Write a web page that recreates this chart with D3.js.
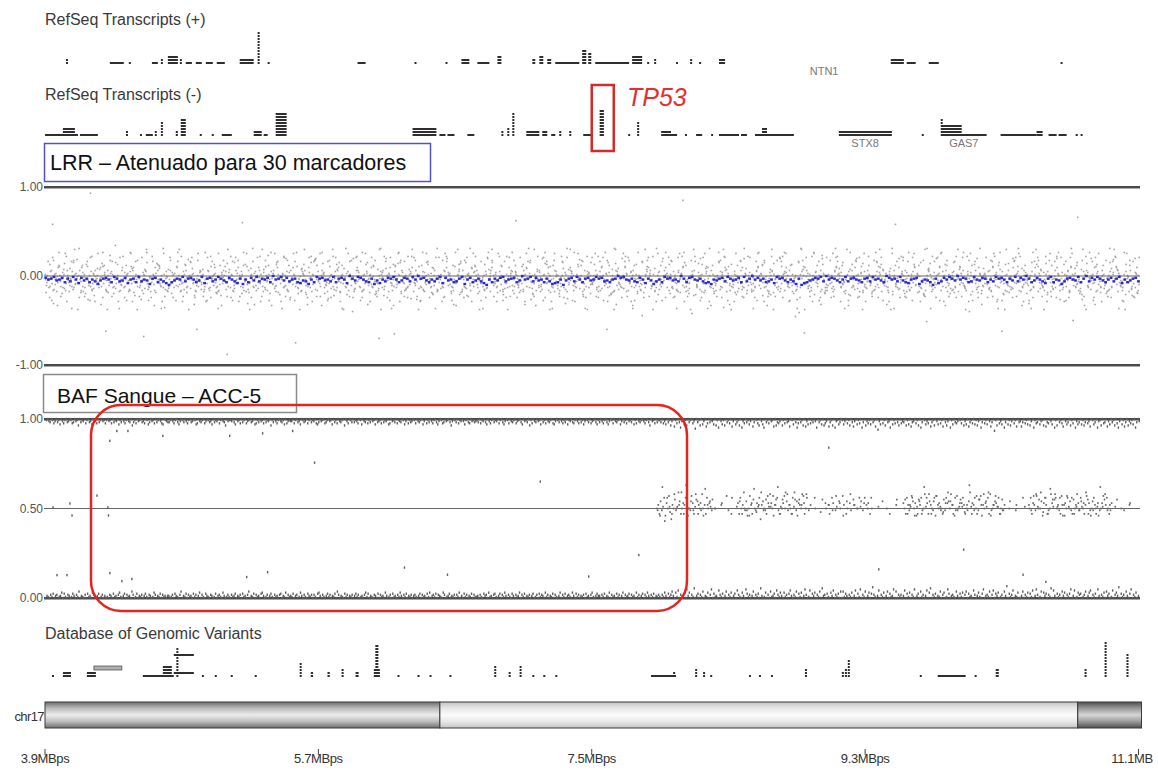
<!DOCTYPE html>
<html>
<head>
<meta charset="utf-8">
<script src="https://cdn.jsdelivr.net/npm/d3@7"></script>
<style>
  html, body { margin: 0; padding: 0; background: #fff; }
  svg { display: block; }
  text { font-family: "Liberation Sans", Arial, sans-serif; }
</style>
</head>
<body>
<svg id="chart" width="1158" height="773"></svg>
<script>
// ---- genomic window (chr17, Mb) ----
const regionStart = 3.9, regionEnd = 11.11;
const axisTicks = [3.9, 5.7, 7.5, 9.3, 11.1];
const axisTickLabels = ["3.9MBps", "5.7MBps", "7.5MBps", "9.3MBps", "11.1MBps"];
const lrrTicks = [1, 0, -1];
const lrrTickLabels = ["1.00", "0.00", "-1.00"];
const bafTicks = [1, 0.5, 0];
const bafTickLabels = ["1.00", "0.50", "0.00"];

// cytobands shown in the ideogram: [name, start, end, stain]
const bands = [["p13.2", 3.9, 6.5, "gpos50"], ["p13.1", 6.5, 10.7, "gneg"], ["p12", 10.7, 11.12, "gpos75"]];

// RefSeq transcripts: [start, end, stacked isoforms]
const plusGenes = [
  [4.038,4.051,2],[4.327,4.419,1],[4.452,4.465,1],[4.604,4.643,1],[4.663,4.676,2],
  [4.709,4.775,3],[4.788,4.801,2],[4.827,4.867,1],[4.893,4.932,1],[4.959,5.005,1],
  [5.031,5.084,1],[5.182,5.274,2],[5.300,5.313,11],[5.366,5.379,1],[5.958,6.011,1],
  [6.333,6.346,1],[6.537,6.550,1],[6.642,6.694,2],[6.747,6.826,1],[6.879,6.905,3],
  [7.109,7.128,2],[7.155,7.181,3],[7.207,7.233,2],[7.260,7.418,1],[7.437,7.464,5],
  [7.477,7.497,4],[7.523,7.746,1],[7.766,7.832,3],[7.865,7.878,1],[7.911,7.924,2],
  [8.055,8.068,1],[8.148,8.161,2],[8.207,8.220,1],[8.338,8.378,2],[9.469,9.555,2],
  [9.574,9.633,1],[9.719,9.785,1],[10.587,10.600,1]
];
const minusGenes = [
  [3.900,4.117,1],[4.018,4.097,3],[4.130,4.248,1],[4.433,4.446,2],[4.525,4.538,1],
  [4.564,4.610,1],[4.623,4.636,2],[4.663,4.669,5],[4.761,4.775,2],[4.794,4.827,6],
  [4.919,4.932,1],[4.998,5.011,1],[5.064,5.130,1],[5.274,5.327,2],[5.340,5.366,1],
  [5.419,5.491,8],[6.320,6.477,3],[6.497,6.537,1],[6.550,6.596,1],[6.681,6.727,1],
  [6.905,6.918,2],[6.944,6.957,3],[6.977,6.990,8],[7.069,7.155,2],[7.174,7.207,2],
  [7.233,7.260,1],[7.286,7.299,2],[7.352,7.365,2],[7.444,7.497,1],[7.552,7.580,9],
  [7.740,7.753,1],[7.799,7.812,5],[7.957,8.022,2],[8.022,8.062,1],[8.114,8.127,1],
  [8.187,8.227,1],[8.286,8.299,1],[8.338,8.470,1],[8.483,8.522,1],[8.575,8.667,1],
  [8.621,8.654,3],[8.654,8.831,1],[9.127,9.476,2],[9.673,9.686,1],[9.798,9.806,6],
  [9.806,9.936,4],[9.806,10.100,1],[10.192,10.429,1],[10.429,10.469,2],[10.508,10.561,1],
  [10.574,10.627,1],[10.686,10.700,1],[10.719,10.732,1]
];
// gene names printed in the tracks: [name, position, strand]
const geneLabels = [["NTN1", 9.03, "+"], ["STX8", 9.30, "-"], ["GAS7", 9.95, "-"]];
const highlightGene = { name: "TP53", start: 7.50, end: 7.645 };

// Database of Genomic Variants: [start, end, level, stacked entries]
const dgvVariants = [
  [3.946,3.959,0,1],[4.018,4.071,0,2],[4.176,4.235,0,2],[4.544,4.748,0,1],[4.676,4.735,0,4],
  [4.765,4.778,0,10],[4.748,4.880,7,1],[4.748,4.880,1,1],[4.933,4.940,0,1],[5.018,5.025,0,1],
  [5.123,5.130,0,1],[5.281,5.288,0,1],[5.577,5.585,0,5],[5.650,5.665,0,2],[5.760,5.775,0,2],
  [5.853,5.860,0,3],[5.945,5.965,0,2],[6.065,6.105,0,3],[6.075,6.095,0,11],[6.221,6.228,0,1],
  [6.353,6.360,0,1],[6.432,6.439,0,1],[6.563,6.570,0,1],[6.858,6.866,0,4],[6.953,6.960,0,2],
  [7.025,7.032,0,4],[7.109,7.116,0,1],[7.181,7.188,0,1],[7.260,7.267,0,1],[7.890,8.055,0,1],
  [8.036,8.042,0,2],[8.181,8.194,0,3],[8.233,8.246,0,2],[8.280,8.286,0,1],[8.535,8.542,0,1],
  [8.601,8.608,0,1],[8.680,8.687,0,1],[8.904,8.911,0,3],[9.147,9.160,0,2],[9.167,9.180,0,3],
  [9.186,9.193,0,6],[9.660,9.667,0,1],[9.778,9.962,0,1],[10.021,10.028,0,1],[10.160,10.180,0,3],
  [10.745,10.752,0,3],[10.877,10.884,0,12],[11.021,11.028,0,8]
];
const dgvGains = [[4.222, 4.406, 2]];

// ---- marker data, one character per marker in genomic order ----
// LRR raw probes: a..z -> -0.56 .. +0.56 (each probe batch has its own calibration offset)
const lrrMarkersA = [
  "mnkolgmjpnmkqlnjmoklrnmpjkmhnolimnkpqlmjnsokmlnjmp",
  "kmnjolpimnkhmnolkjmnpqmlnkfojmlnkmpnjlomkrnmlijnmo",
  "njmlokmnpkjmilnoqmknjlmpnokmjglnmkonplmjknsmolnjpm",
  "lmknojhmpnlkmjonmlpkjnrmolnqkmjlnmiokpjnlmkonmejlp",
  "mkjnlomnpkmjlnokimnjplmokqnjmlnkmopjlhnmkojnmlkpnm",
  "jnmlkopmnjkmlnoqjmkinlpmonkjlmnokmjpnlkmonjmlkpnom",
  "onkmljnpmkhnlmokjmnqlpnmkjonmlnkgjmponlkmrnjlmokn",
  "lnmkjopnmlkimnjqolmknpjmlonkmjnldmkopnmljknomlnpkm",
  "mkonljmnpkjmlnoimkqnjlmopnkmjlnmokfpjnlmkonjmlpknm",
  "nmjlkopnmikmljnoqmknjlmopnkmjlnhmkonplmjknmolnjsmk",
  "kmlnjopmnkljmnoikmpnljmqokmnljmnokpjlmnkomjnlkpmon",
  "mjnlkopmnjkmilnoqjmknlpmonkjlmnokmjpnlkmoenjmlkpnm",
  "nlmokjpnmhkmolnjqmkpnlomjknmlgnokpmjnlkmqonjmlkpnh",
  "lkmnojpmnklmjhonqkmnlpjomknmljnokrmpjnlkmonjmilkpn"
].join("");
const lrrMarkersB = [
  "kqhmrjnfpliosgmkqjtnehlpmiqkrjnglsomhpjeknqiumgrkl",
  "hpnjsglqemkriotjmhqfnlpkgsjmorihnkqtlgjpmeqrnhkslj",
  "ojgrmhqknispfmljtohqkrngmiplsjehqnkrmgtojlpifnskqm",
  "gnrkjphmsqlieontkhrmgqjplsfnikqmhtjrolgpemnsqkhjrl",
  "mqhjsnkgrpliotemjqhnrkfplsgimqjhontrklegpjmsqhnikr",
  "jrmghsqkniplftoqjhmrnkgsplieqmjhrontklgsmpjqhernki",
  "phkrmjgsqnlitfokmjrhqnegpslkimqhjrotnkglsmpqjhenir",
  "lsjhqmrkngpioetkjmhsqnrlgfpkimjqhtornkelgsjpqmhnri",
  "qhmjrsnkgpliedtqkmjhrsnlgfpikmqjhtronkelgspmqjhnik",
  "rjmhqsknpglfiotekmjrqhnslgpkimjqhtoernklgsmpqhjnir",
  "kmhsjrqngplitfomkjqhrnesglpkimjqhtroknlgesmpqjhnri",
  "hqjmrsknpglitbokmjqhrnslgfpkimjqhtonrkelgspmqjhnik",
  "nrhjmqskgpolietkmjhqrnslfgpikmjhqtrnokelgmspjqhnkr",
  "jgqmhrsknpliotfekmjqhrnslgpkimjhqtronklgesmpjqhnir"
].join("");
const lrrMarkersC = [
  "nlmkojnmlpkmnjolmkqnmlojknmplkjnomlmkpnjolmnkqmljo",
  "mknljpomnkmljnoqkmlnjmopklnmjkolnmpkmjlnokmqnljmko",
  "lnkmojpmnlkjmnoplkmnjqolmknjmpolnkmjlonkmpjnlmokqn",
  "imnkrjlomnkpmljnoikmqnlrjmkonmlhpnkmjoqlnmkijnmrlo",
  "okmjnlqmnkpiljmnokrmnljkpmnqoljmknhmlonpkmjlqnmkio",
  "mjlnkomrnmkjplnimokqnmjlkponmlkjnrmoqlnkmjpilnmkoj",
  "knmljponkmqlinjmokrnmljpkmonljkqmnhlomjknpmlioknmq",
  "lmonkjpmlnqkimjonlkrmpnjlkomnmkjqlnpmoknjlimkronmj",
  "nkmljomnpqkjlmnoikmrnljpmkonljmqknmolpjkmnilmokrnj",
  "mlnjkopmnlqkjmionmlkrpnjmkolnmjkqnmploknjmilkmornj",
  "jnmlkopnmkqljnimokmrnlpjkmonlmjkqpnmolkjnmiokmrlnj",
  "omkjnlpmnkqlijmonkmlrnpjkmolnmjqknmplokjnmilmorknj",
  "knmlojpmnkqlmijnokmrlnpjmkolnmjqknmplokjnimlkmornj",
  "mlnkojpnmkqjlimnokmrnlpjmkonlmjqknmpolkjnimlokmrnj"
].join("");
const lrrMarkersD = [
  "ilpgqkmshnjrloeqkmtinhplgrjmokfsnliqhmjpekrnglsoim",
  "qhlnjsgmrkipoethmjqnlgskrhpimjoflqnkhsgjrmpieknqlh",
  "nrgjlqhmspkiotfmjrhnqlgskjpimerhqnlkgsjmopifnrkqhl",
  "hsnkgqjrmplieotkhqmjrngslpfikmqhjtnrolgepmksqnhjrk",
  "rmqhjgsnkplioetmjqhrnkgfslpimqjhtonrklgepjsmqhnirk",
  "gjrmhsqnkilpfotqjhmrnkgsplieqmjhrontklgsmpjqhernk",
  "kphrmjgsqnlitfokmjrhqnegpslkimqhjrotnkglsmpqjhenir",
  "slhjqmrkngpioetkjmhsqnrlgfpkimjqhtornkelgsjpqmhnri",
  "hqmjrsnkgplcedtqkmjhrsnlgfpikmqjhtronkelgspmqjhnik",
  "jrmhqsknpglfiotekmjrqhnslgpkimjqhtoernklgsmpqhjnir",
  "mkhsjrqngplitfomkjqhrnesglpkimjqhtroknlgesmpqjhnri",
  "qhjmrsknpglitbokmjqhrnslgfpkimjqhtonrkelgspmqjhnik"
].join("");
const lrrBatchOffsets = [-0.017, 0.006, -0.006, 0.017];
// LRR averaged over 30 markers: a -> +0.03, each letter 0.01 lower
const lrrSmoothed = [
  "fhgeihfkgjehlfigkhjmigfhkegjiflhgkejhimgfkhjlnkigh",
  "ejgfhkielgfjhegikfhjlgmhkfiejghfkdhgeifjhgklijmhke",
  "gfihjekgfhldgiefhjkgmilhjfgehkifgjehdgfikhjgelfihk",
  "jgemhfkigjlnhkgifejhgfkidhgejfihkgjmlkhnigfjehkgfi",
  "hegfjikhgdfehigjkfhlgimjhkegfihjdgkfehigjlkmhigfje",
  "gihfkejgdhfigkjhlegfikhjmgnlkihfgejdhfgikhejgfhikg",
  "fjehgikdfhgjeiklhgfmjhikngljfhegidhfgkjehifgkhjegf",
  "hkgiejfhdgkifhjlgekhimjgfhiekgdjfhegikhfjgelhkigfj"
].join("");
// isolated LRR probes far from the baseline: [position, LRR]
const lrrOutliers = [
  [3.95,0.58],[4.2,0.93],[4.3,-0.62],[4.55,-0.68],[4.9,-0.6],[5.1,-0.88],[5.2,0.6],[5.55,-0.75],
  [6.1,-0.7],[6.2,-0.65],[7.0,0.62],[7.6,-0.6],[8.1,0.85],[8.9,-0.64],[9.5,0.58],[10.2,-0.62],[10.7,0.66]
];

// BAF homozygous calls: 0..9,a..z -> distance 0 .. 0.21 from the 0 / 1 line
const bafAA = [
  "02103140230125041032014203160210304120531024013020",
  "10320412035102403120630140213024103201530214031202",
  "20130421036021403120413025031042103201402310520131",
  "03124021304120360214031204520130241031203402150312",
  "14023015203104213031045203102413021406302104130213",
  "02413012035140210320403120520130412031520314021302",
  "31024031204150231403210530124021303150204130214031",
  "12031042305120341024031520310420312503140213024013",
  "04132051302140310250314023105204130213041203510242",
  "20314021503120413025031240312051302403152031402131",
  "0315204136205170312408250319024031602150380412073",
  "1402603150240731052084130260314092015030612407315",
  "2051304720316041502830170425031609230410527031406",
  "0614203150270418031602504a3102703150260412806031",
  "3027041503180240613027059031402160350184023106204",
  "1503604120730251048023160370425013062b0413702150",
  "0260315041702830160524031907204130625031480270153",
  "4013602570314082031506240170352a0413062048031502"
].join("");
const bafBB = [
  "10230142031502410320143021603120410325012403102141",
  "02140312051302410230631402103240153021403102450123",
  "31024103520130241032015402310420132503120410236021",
  "12035021403104210320541302140312061302410231504212",
  "20410325013204103120453021043102150314023106024013",
  "03124015023041302150321403120540213041230152041320",
  "14023105204130241035201430210362013041202510340213",
  "21304120350241031204103520140231042103502130614023",
  "02150314023104520130241305120341024031520130421035",
  "13024103520140231052031402130514023102410360214031",
  "1304250316207140382051603104290316052074031250618",
  "0251603140720531608240315207301460258031402170634",
  "2061403270150384031607250413028031506420731608215",
  "3015204160372051408306241503170a25041603280514036",
  "0423061507320416083015240731602504170362081503420",
  "1406250731405162083041502730b16042508305162041703",
  "2730415062081430521607340250816031470253061408253",
  "0516304270153082160430725031604820517306241508302"
].join("");
// BAF heterozygous calls (a..z -> 0.40 .. 0.65, '.' = no call)
const bafHetStart = 7.93, bafHetEnd = 11.08;
const bafHetA = [
  "kmhojlqgnkriemkpjltohknmqigkjrnhlpomkjsgmhqknlj",
  "..k....m.....j..q...",
  "lnhqkmtjogkrmhpkjnlqemokjhrlsnkgmpqjhlknrtojmkhqlpjgnmksrhkq",
  "..m...k.....p..",
  "k.mh.qn.jl.ok.rm.hk.nj.pm.k.ql.jn.mk.hq.",
  "....l......k.......m.....",
  "nkhqmjlroknghpmqjkslnhomkjqgrmnlkhpjqnoksmhgjrklpnqmhkjotlnmqkhjprgmknlqhsjkmonlqhkpjm",
  "...k.....m......l...",
  "kqhnmjrlpkognqmhjksnlpqkmjhrgmnkqlojhpkmsnjqlkhmrpnjkoqmhlgjknrpmqkhjn",
  "..l....k......m....."
].join("");
const bafHetB = [
  "j.g.w.d.q.l.h.s.k.m.t.h.x.k.o.j.s.h.n.k.v.m.o.p.k",
  ".....n...r...h......",
  "o.h.k.j.g.n.v.i.m.t.j.p.n.l.r.m.w.h.p.k.s.m.h.t.o.p.m.n.s.j.",
  "...q....i...n..",
  "m..j..r..n..g..o..s..m..k..o..q..n..k..",
  "......o.....h.....p......",
  "p.h.m.q.g.l.o.h.w.q.s.h.o.r.k.j.i.n.t.o.m.q.j.n.l.i.m.x.h.j.r.p.m.s.o.t.g.m.r.l.h.j.",
  "....o....j.....q....",
  "m.j.r.s.k.t.i.q.h.v.p.s.l.q.m.g.r.k.q.h.l.j.o.n.t.h.g.j.k.n.w.l.s.j.m.",
  "....p.....j....n...."
].join("");
// isolated BAF calls: [position, BAF]
const bafScatter = [
  [3.953,0.506],[4.064,0.528],[4.078,0.461],[4.242,0.572],[4.314,0.506],[4.318,0.461],
  [4.327,0.878],[4.373,0.933],[4.446,0.933],[4.676,0.906],[5.116,0.906],[5.333,0.92],[5.531,0.933],
  [3.979,0.128],[4.045,0.128],[4.327,0.139],[4.406,0.094],[4.472,0.106],[5.228,0.117],[5.366,0.144],
  [5.675,0.756],[7.161,0.65],[6.267,0.17],[6.55,0.13],[7.81,0.24],[7.48,0.12],
  [9.061,0.84],[9.949,0.27],[9.39,0.16],[10.49,0.09],[10.34,0.13]
];

// ---- scales ----
const svg = d3.select("#chart");
const x = d3.scaleLinear().domain([regionStart, regionEnd]).range([45, 1140]);
const yLRR = d3.scaleLinear().domain([-1, 1]).range([365, 187]);
const yBAF = d3.scaleLinear().domain([0, 1]).range([598, 419]);
const plotLeft = 44, plotRight = 1140;

// expand a per-marker string into {pos, value} records
function decodeMarkers(str, alphabet, start, end, toValue) {
  const pos = d3.scaleLinear().domain([0, str.length - 1]).range([start, end]);
  const out = [];
  for (let i = 0; i < str.length; i++) {
    const k = alphabet.indexOf(str[i]);
    if (k < 0) continue;
    out.push({ pos: pos(i), value: toValue(k) });
  }
  return out;
}
const letters = "abcdefghijklmnopqrstuvwxyz";
const digits36 = "0123456789abcdefghijklmnopqrstuvwxyz";

// ---- track titles ----
function title(txt, y) {
  svg.append("text").attr("x", 45).attr("y", y).attr("font-size", 16)
    .attr("fill", "#3a3a3a").text(txt);
}
title("RefSeq Transcripts (+)", 25);
title("RefSeq Transcripts (-)", 100);
title("Database of Genomic Variants", 639);

// ---- feature tracks ----
function featureTrack(data, baseline, color) {
  const g = svg.append("g");
  data.forEach(([s, e, level, rows]) => {
    for (let r = 0; r < rows; r++) {
      g.append("rect")
        .attr("x", x(s))
        .attr("width", Math.max(2, x(e) - x(s)))
        .attr("y", baseline - (level + r) * 3 - 2)
        .attr("height", 2)
        .attr("fill", color);
    }
  });
}
featureTrack(plusGenes.map(d => [d[0], d[1], 0, d[2]]), 64, "#2e2e2e");
featureTrack(minusGenes.map(d => [d[0], d[1], 0, d[2]]), 136, "#2e2e2e");
featureTrack(dgvVariants, 677, "#2e2e2e");
dgvGains.forEach(([s, e, level]) => {
  svg.append("rect").attr("x", x(s)).attr("width", x(e) - x(s))
    .attr("y", 677 - level * 3 - 5).attr("height", 4)
    .attr("fill", "#b0b0b0").attr("stroke", "#555").attr("stroke-width", 0.8);
});
geneLabels.forEach(([name, p, strand]) => {
  svg.append("text").attr("x", x(p)).attr("y", strand === "+" ? 75 : 147)
    .attr("text-anchor", "middle").attr("font-size", 11)
    .attr("fill", "#777").text(name);
});

// ---- LRR panel ----
const lrrG = svg.append("g");
const lrrBatch = (str, s, e, off) => decodeMarkers(str, letters, s, e, k => (k - 12.5) * 0.045 + off);
const lrrRaw = lrrBatch(lrrMarkersA, 3.905, 11.1, lrrBatchOffsets[0])
  .concat(lrrBatch(lrrMarkersB, 3.91, 11.105, lrrBatchOffsets[1]))
  .concat(lrrBatch(lrrMarkersC, 3.902, 11.098, lrrBatchOffsets[2]))
  .concat(lrrBatch(lrrMarkersD, 3.908, 11.103, lrrBatchOffsets[3]))
  .concat(lrrOutliers.map(([pos, value]) => ({ pos, value })));
lrrG.selectAll("rect.raw").data(lrrRaw).join("rect").attr("class", "raw")
  .attr("x", d => x(d.pos) - 0.8).attr("y", d => yLRR(d.value) - 0.8)
  .attr("width", 1.6).attr("height", 1.6).attr("fill", "#a4a4a4");

function panelLines(g, ticks, labels, y, frame) {
  ticks.forEach((t, i) => {
    const yy = y(t);
    if (frame.includes(t)) {
      g.append("line").attr("x1", plotLeft).attr("x2", plotRight)
        .attr("y1", yy + 1.5).attr("y2", yy + 1.5).attr("stroke", "#aaa").attr("stroke-width", 1);
      g.append("line").attr("x1", plotLeft).attr("x2", plotRight)
        .attr("y1", yy).attr("y2", yy).attr("stroke", "#4a4a4a").attr("stroke-width", 2.2);
    } else {
      g.append("line").attr("x1", plotLeft).attr("x2", plotRight)
        .attr("y1", yy).attr("y2", yy).attr("stroke", "#666").attr("stroke-width", 1);
    }
    g.append("text").attr("x", 43).attr("y", yy).attr("dy", "0.35em")
      .attr("text-anchor", "end").attr("font-size", 12).attr("fill", "#555").text(labels[i]);
  });
}
panelLines(lrrG, lrrTicks, lrrTickLabels, yLRR, [1, -1]);

const lrrAvg = decodeMarkers(lrrSmoothed, letters, 3.905, 11.1, k => 0.03 - k * 0.01);
lrrG.selectAll("rect.avg").data(lrrAvg).join("rect").attr("class", "avg")
  .attr("x", d => x(d.pos) - 1.4).attr("y", d => yLRR(d.value) - 1.2)
  .attr("width", 2.8).attr("height", 2.4).attr("fill", "#2a2ad2");

// ---- BAF panel ----
const bafG = svg.append("g");
const bafHom = decodeMarkers(bafAA, digits36, 3.905, 11.1, k => k * 0.006)
  .concat(decodeMarkers(bafBB, digits36, 3.91, 11.105, k => 1 - k * 0.006))
  .concat(bafScatter.map(([pos, value]) => ({ pos, value })));
const bafHetCalls = decodeMarkers(bafHetA, letters, bafHetStart, bafHetEnd, k => 0.4 + k * 0.01)
  .concat(decodeMarkers(bafHetB, letters, bafHetStart + 0.004, bafHetEnd - 0.004, k => 0.4 + k * 0.01));
panelLines(bafG, bafTicks, bafTickLabels, yBAF, [1, 0]);
bafG.selectAll("rect.hom").data(bafHom).join("rect").attr("class", "hom")
  .attr("x", d => x(d.pos) - 0.7).attr("y", d => yBAF(d.value) - 1.2)
  .attr("width", 1.4).attr("height", 2.4).attr("fill", "#5f5f5f");
bafG.selectAll("rect.het").data(bafHetCalls).join("rect").attr("class", "het")
  .attr("x", d => x(d.pos) - 0.8).attr("y", d => yBAF(d.value) - 0.9)
  .attr("width", 1.6).attr("height", 1.8).attr("fill", "#6a6a6a");

// ---- panel captions ----
svg.append("rect").attr("x", 44.5).attr("y", 143.5).attr("width", 386).attr("height", 38)
  .attr("fill", "#fff").attr("stroke", "#5050d0").attr("stroke-width", 1.5);
svg.append("text").attr("x", 50).attr("y", 170).attr("font-size", 21.5).attr("fill", "#111")
  .text("LRR – Atenuado para 30 marcadores");
svg.append("rect").attr("x", 43.5).attr("y", 374.5).attr("width", 253).attr("height", 38)
  .attr("fill", "#fff").attr("stroke", "#8a8a8a").attr("stroke-width", 1.5);
svg.append("text").attr("x", 57).attr("y", 403).attr("font-size", 21).attr("fill", "#111")
  .text("BAF Sangue – ACC-5");

// ---- ideogram ----
const defs = svg.append("defs");
const bandShades = { gpos50: ["#6e6e6e", "#bdbdbd", "#ececec"], gneg: ["#c4c4c4", "#e8e8e8", "#fbfbfb"], gpos75: ["#505050", "#9a9a9a", "#d6d6d6"] };
Object.entries(bandShades).forEach(([k, [edge, mid, core]]) => {
  const lg = defs.append("linearGradient").attr("id", "g-" + k).attr("x1", 0).attr("x2", 0).attr("y1", 0).attr("y2", 1);
  [[0, edge], [0.25, mid], [0.5, core], [0.75, mid], [1, edge]].forEach(([o, c]) =>
    lg.append("stop").attr("offset", o).attr("stop-color", c));
});
defs.append("clipPath").attr("id", "axis-clip").append("rect")
  .attr("x", 0).attr("y", 740).attr("width", 1153).attr("height", 33);
const ideoTop = 702, ideoH = 26;
bands.forEach(([name, s, e, stain]) => {
  svg.append("rect").attr("x", x(s)).attr("y", ideoTop).attr("width", x(e) - x(s)).attr("height", ideoH)
    .attr("fill", `url(#g-${stain})`).attr("stroke", "#3a3a3a").attr("stroke-width", 1);
});
svg.append("text").attr("x", 44).attr("y", 721).attr("text-anchor", "end")
  .attr("font-size", 13).attr("letter-spacing", -0.6).attr("fill", "#333").text("chr17");

// ---- position axis ----
const axisG = svg.append("g").attr("clip-path", "url(#axis-clip)");
axisTicks.forEach((t, i) => {
  axisG.append("line").attr("x1", x(t)).attr("x2", x(t)).attr("y1", 749).attr("y2", 755)
    .attr("stroke", "#444").attr("stroke-width", 1);
  axisG.append("text").attr("x", x(t)).attr("y", 763).attr("text-anchor", "middle")
    .attr("font-size", 13).attr("letter-spacing", -0.4).attr("fill", "#333").text(axisTickLabels[i]);
});

// ---- annotations ----
svg.append("rect").attr("x", x(highlightGene.start)).attr("y", 85)
  .attr("width", x(highlightGene.end) - x(highlightGene.start)).attr("height", 66)
  .attr("fill", "none").attr("stroke", "#d42a2a").attr("stroke-width", 2.5);
svg.append("text").attr("x", 627).attr("y", 106).attr("font-size", 25).attr("font-style", "italic")
  .attr("fill", "#e23030").text(highlightGene.name);
svg.append("rect").attr("x", 91).attr("y", 405).attr("width", 596).attr("height", 206).attr("rx", 30)
  .attr("fill", "none").attr("stroke", "#e52420").attr("stroke-width", 2.5);
</script>
</body>
</html>
